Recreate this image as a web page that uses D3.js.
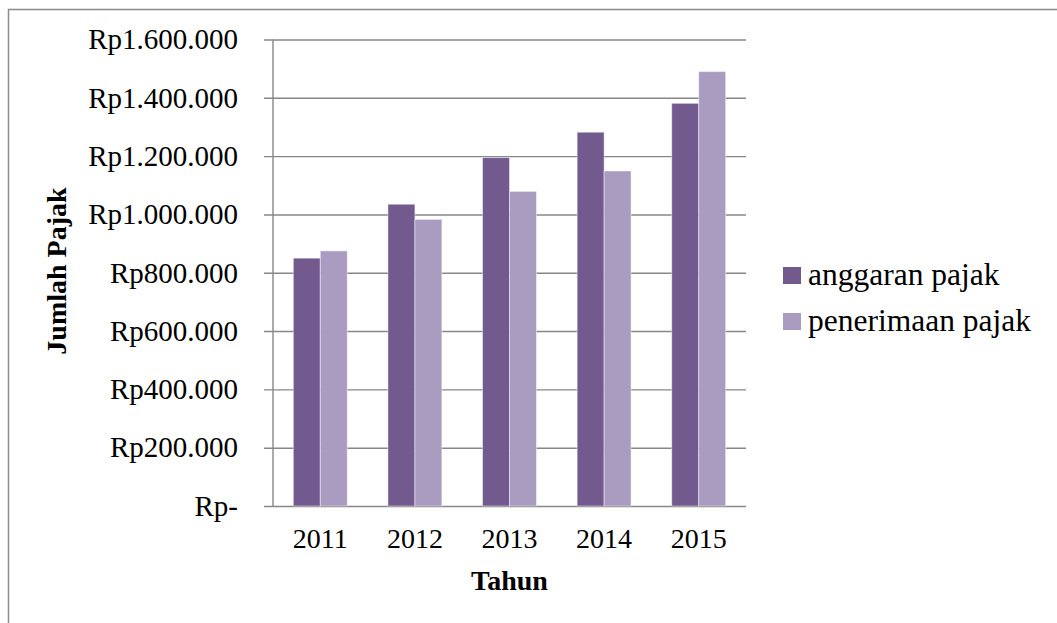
<!DOCTYPE html>
<html>
<head>
<meta charset="utf-8">
<script src="https://cdn.jsdelivr.net/npm/d3@7"></script>
<style>
    body { margin: 0; background: #fff; }
    svg text { font-family: "Liberation Serif", "Times New Roman", serif; fill: #000; }
</style>
</head>
<body>
<div id="chart"></div>
<script>
const years = ['2011', '2012', '2013', '2014', '2015'];
const seriesNames = ['anggaran pajak', 'penerimaan pajak'];
const anggaranPajak = [850000, 1035000, 1195000, 1282000, 1381000];
const penerimaanPajak = [875000, 983000, 1079000, 1149000, 1490000];
const yTickValues = [0, 200000, 400000, 600000, 800000, 1000000, 1200000, 1400000, 1600000];
const yTickLabels = ['Rp-', 'Rp200.000', 'Rp400.000', 'Rp600.000', 'Rp800.000',
    'Rp1.000.000', 'Rp1.200.000', 'Rp1.400.000', 'Rp1.600.000'];
const colors = ['#725a8f', '#aa9cc0'];

class BarChart {
    constructor(target, width, height, margin) {
        this._width = width;
        this._height = height;
        this._margin = margin;

        this._svg = d3.select(target).append('svg')
            .attr('width', width)
            .attr('height', height);

        // chart frame, right and bottom edges fall outside the picture
        this._svg.append('rect')
            .attr('x', 8.5).attr('y', 9.5)
            .attr('width', width + 20).attr('height', height + 20)
            .attr('fill', 'none')
            .attr('stroke', '#8c8c8c')
            .attr('stroke-width', 1.5);

        this._x = d3.scaleBand()
            .domain(years)
            .range([margin.left, width - margin.right])
            .paddingInner(0.43)
            .paddingOuter(0.215);

        this._xSeries = d3.scaleBand()
            .domain(seriesNames)
            .range([0, this._x.bandwidth()]);

        this._y = d3.scaleLinear()
            .domain([0, 1600000])
            .range([height - margin.bottom, margin.top]);
    }

    draw() {
        const x = this._x, y = this._y, xs = this._xSeries;
        const left = this._margin.left, right = this._width - this._margin.right;
        const tickLen = 9;

        const yAxis = d3.axisLeft(y)
            .tickValues(yTickValues)
            .tickFormat((d, i) => yTickLabels[i])
            .tickSize(right - left + tickLen)
            .tickPadding(26);

        const gy = this._svg.append('g')
            .attr('transform', `translate(${right}, 0)`)
            .call(yAxis);
        gy.select('.domain').remove();
        gy.selectAll('.tick line')
            .attr('stroke', '#878787')
            .attr('stroke-width', 1.4);
        gy.selectAll('.tick text')
            .style('font-size', '29px');

        this._svg.append('line')
            .attr('x1', left).attr('x2', left)
            .attr('y1', y(1600000)).attr('y2', y(0))
            .attr('stroke', '#878787')
            .attr('stroke-width', 1.4);

        const rows = years.map((yr, i) => ({ year: yr, values: [anggaranPajak[i], penerimaanPajak[i]] }));

        this._svg.append('g')
            .selectAll('g')
            .data(rows)
            .join('g')
            .attr('transform', d => `translate(${x(d.year)}, 0)`)
            .selectAll('rect')
            .data(d => d.values.map((v, j) => ({ name: seriesNames[j], value: v, idx: j })))
            .join('rect')
            .attr('x', d => xs(d.name))
            .attr('width', xs.bandwidth())
            .attr('y', d => y(d.value))
            .attr('height', d => y(0) - y(d.value))
            .attr('fill', d => colors[d.idx])
            .attr('stroke', 'rgba(255,255,255,0.45)')
            .attr('stroke-width', 1);

        // year labels
        this._svg.append('g')
            .selectAll('text')
            .data(years)
            .join('text')
            .attr('x', d => x(d) + x.bandwidth() / 2)
            .attr('y', y(0) + 42)
            .attr('text-anchor', 'middle')
            .style('font-size', '28px')
            .text(d => d);

        this._svg.append('text')
            .attr('x', (left + right) / 2)
            .attr('y', 590)
            .attr('text-anchor', 'middle')
            .style('font-size', '28px')
            .style('font-weight', 'bold')
            .text('Tahun');

        this._svg.append('text')
            .attr('transform', `translate(66, 271) rotate(-90)`)
            .attr('text-anchor', 'middle')
            .style('font-size', '28px')
            .style('font-weight', 'bold')
            .text('Jumlah Pajak');

        const legend = this._svg.append('g')
            .selectAll('g')
            .data(seriesNames)
            .join('g')
            .attr('transform', (d, i) => `translate(783, ${267 + i * 46})`);
        legend.append('rect')
            .attr('width', 18).attr('height', 17)
            .attr('fill', (d, i) => colors[i]);
        legend.append('text')
            .attr('x', 25).attr('y', 18)
            .style('font-size', '31.5px')
            .text(d => d);
    }
}

const chart = new BarChart('#chart', 1057, 623, { top: 39.5, right: 311, bottom: 117, left: 273 });
chart.draw();
</script>
</body>
</html>
